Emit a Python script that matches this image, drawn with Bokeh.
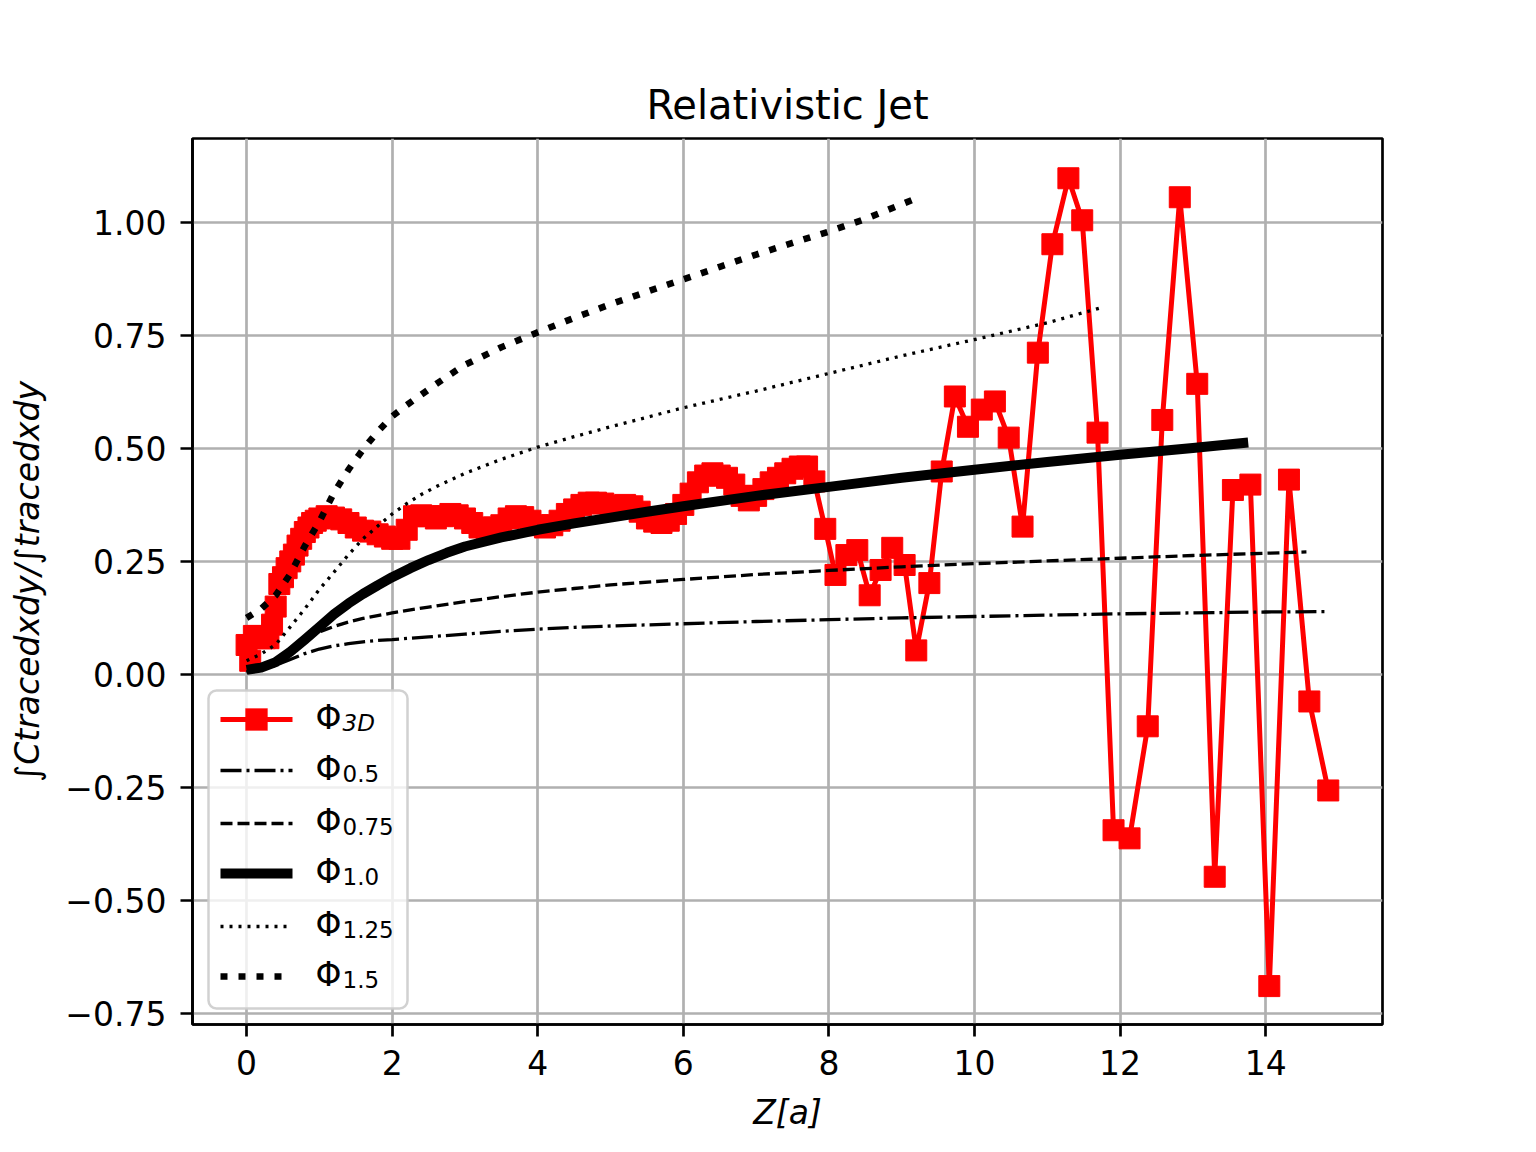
from bokeh.plotting import figure
from bokeh.models import (BoxAnnotation, Label, Arrow, FixedTicker,
                          CustomJSTickFormatter)
from bokeh.embed import file_html
from bokeh.resources import INLINE

# ---------------- data ----------------
z_3d = [0.0, 0.05, 0.1, 0.15, 0.2, 0.25, 0.3, 0.35, 0.4, 0.45, 0.5, 0.55, 0.6, 0.65,
        0.7, 0.75, 0.8, 0.85, 0.9, 0.95, 1.0, 1.1, 1.2, 1.3,
        1.4, 1.5, 1.6, 1.7, 1.8, 1.9, 2.0, 2.1, 2.2, 2.3, 2.4, 2.5, 2.6, 2.7, 2.8,
        2.9, 3.0, 3.1, 3.2, 3.3, 3.4, 3.5, 3.6, 3.7, 3.8, 3.9, 4.0, 4.1, 4.2, 4.3,
        4.4, 4.5, 4.6, 4.7, 4.8, 4.9, 5.0, 5.1, 5.2, 5.3, 5.4, 5.5, 5.6, 5.7, 5.8,
        5.9, 6.0, 6.1, 6.2, 6.3, 6.4, 6.5, 6.6, 6.7, 6.8, 6.9, 7.0, 7.1, 7.2, 7.3,
        7.4, 7.5, 7.6, 7.7, 7.8,
        7.95, 8.09, 8.24, 8.39, 8.56, 8.71, 8.87, 9.04, 9.20, 9.38, 9.55, 9.73,
        9.91, 10.10, 10.28, 10.47, 10.66, 10.87, 11.07, 11.29, 11.48, 11.69,
        11.91, 12.13, 12.38, 12.58, 12.82, 13.06, 13.30, 13.55, 13.79, 14.05,
        14.32, 14.60, 14.86]
phi_3d = [0.065, 0.03, 0.085, 0.085, 0.08, 0.08, 0.08, 0.11, 0.15, 0.20, 0.215,
          0.235, 0.25, 0.265, 0.285, 0.30, 0.315, 0.325, 0.335, 0.34,
          0.345, 0.35, 0.347, 0.343, 0.335, 0.325, 0.318, 0.316, 0.31, 0.305, 0.30,
          0.30, 0.32, 0.35, 0.352, 0.35, 0.345, 0.35, 0.355, 0.352, 0.345, 0.335,
          0.325, 0.32, 0.325, 0.33, 0.345, 0.35, 0.348, 0.34, 0.33, 0.325, 0.33,
          0.34, 0.355, 0.365, 0.375, 0.38, 0.38, 0.378, 0.372, 0.37, 0.375, 0.372,
          0.36, 0.345, 0.338, 0.335, 0.34, 0.355, 0.375, 0.40, 0.425, 0.44, 0.445,
          0.44, 0.435, 0.42, 0.395, 0.385, 0.395, 0.41, 0.425, 0.435, 0.445, 0.455,
          0.46, 0.46, 0.427,
          0.322, 0.220, 0.264, 0.275, 0.175, 0.231, 0.280, 0.242, 0.053, 0.202,
          0.449, 0.615, 0.548, 0.586, 0.604, 0.524, 0.327, 0.712, 0.952, 1.098,
          1.005, 0.535, -0.345, -0.363, -0.115, 0.563, 1.056, 0.643, -0.448,
          0.408, 0.420, -0.690, 0.431, -0.060, -0.257]

z_05 = [0.0, 0.2, 0.4, 0.6, 0.8, 1.0, 1.2, 1.4, 1.6, 1.8, 2.0, 2.5, 3.0, 3.5, 4.0,
        4.5, 5.0, 6.0, 7.0, 8.0, 9.0, 10.0, 11.0, 12.0, 13.0, 14.0, 14.86]
phi_05 = [0.005, 0.01, 0.02, 0.033, 0.046, 0.056, 0.063, 0.068, 0.072, 0.075, 0.077,
          0.083, 0.089, 0.095, 0.1, 0.104, 0.107, 0.112, 0.117, 0.121, 0.125, 0.128,
          0.131, 0.134, 0.136, 0.138, 0.139]

z_075 = [0.0, 0.2, 0.4, 0.6, 0.8, 1.0, 1.2, 1.4, 1.6, 1.8, 2.0, 2.5, 3.0, 3.5, 4.0,
         4.5, 5.0, 6.0, 7.0, 8.0, 9.0, 10.0, 11.0, 12.0, 13.0, 14.0, 14.56]
phi_075 = [0.005, 0.015, 0.033, 0.055, 0.077, 0.094, 0.106, 0.116, 0.124, 0.13,
           0.136, 0.149, 0.161, 0.172, 0.182, 0.19, 0.198, 0.21, 0.221, 0.23, 0.238,
           0.245, 0.251, 0.257, 0.263, 0.268, 0.271]

z_10 = [0.0, 0.2, 0.4, 0.6, 0.8, 1.0, 1.2, 1.4, 1.6, 1.8, 2.0, 2.25, 2.5, 2.75, 3.0,
        3.5, 4.0, 4.5, 5.0, 5.5, 6.0, 7.0, 8.0, 9.0, 10.0, 11.0, 12.0, 13.0, 13.76]
phi_10 = [0.01, 0.015, 0.027, 0.05, 0.077, 0.105, 0.133, 0.157, 0.178, 0.197, 0.215,
          0.235, 0.253, 0.269, 0.283, 0.303, 0.32, 0.334, 0.347, 0.36, 0.372, 0.395,
          0.415, 0.435, 0.453, 0.47, 0.486, 0.501, 0.513]

z_125 = [0.0, 0.2, 0.4, 0.6, 0.8, 1.0, 1.2, 1.4, 1.6, 1.8, 2.0, 2.2, 2.4, 2.6, 2.8,
         3.0, 3.5, 4.0, 4.5, 5.0, 6.0, 7.0, 8.0, 9.0, 10.0, 11.0, 11.75]
phi_125 = [0.03, 0.045, 0.066, 0.105, 0.145, 0.188, 0.226, 0.265, 0.30, 0.328, 0.355,
           0.378, 0.398, 0.415, 0.43, 0.445, 0.476, 0.503, 0.526, 0.548, 0.59, 0.627,
           0.666, 0.705, 0.741, 0.778, 0.812]

z_15 = [0.0, 0.2, 0.4, 0.6, 0.8, 1.0, 1.2, 1.4, 1.6, 1.8, 2.0, 2.2, 2.4, 2.6, 2.8,
        3.0, 3.5, 4.0, 4.5, 5.0, 5.5, 6.0, 6.5, 7.0, 7.5, 8.0, 8.5, 9.27]
phi_15 = [0.125, 0.145, 0.175, 0.222, 0.284, 0.338, 0.402, 0.453, 0.498, 0.537,
          0.571, 0.596, 0.619, 0.642, 0.664, 0.685, 0.724, 0.757, 0.789, 0.819,
          0.847, 0.874, 0.902, 0.929, 0.955, 0.98, 1.008, 1.058]

x_ticks = [0, 2, 4, 6, 8, 10, 12, 14]
y_ticks = [-0.75, -0.5, -0.25, 0.0, 0.25, 0.5, 0.75, 1.0]
title_text = "Relativistic Jet"
x_label = "Z[a]"
y_label = "∫Ctracedxdy/∫tracedxdy"
legend_main = ["Φ", "Φ", "Φ", "Φ", "Φ", "Φ"]
legend_sub = ["3D", "0.5", "0.75", "1.0", "1.25", "1.5"]

# ---------------- figure ----------------
FONT = "DejaVu Sans"
W, H = 1520, 1136
FL, FT, FR, FB = 192, 138, 1382, 1024  # frame edges in picture pixels
p = figure(width=W, height=H, x_range=(-0.743, 15.605), y_range=(-0.775, 1.186),
           output_backend="svg", toolbar_location=None,
           min_border_left=FL, min_border_right=W - FR,
           min_border_top=FT, min_border_bottom=H - FB)
p.background_fill_color = "white"
p.border_fill_color = "white"
p.outline_line_color = "black"
p.outline_line_width = 2.7

p.title.text = title_text
p.title.align = "center"
p.title.text_font = FONT
p.title.text_font_size = "40px"
p.title.text_font_style = "normal"
p.title.text_color = "black"
p.title.standoff = 21

for ax in (p.xaxis[0], p.yaxis[0]):
    ax.axis_line_width = 2.7
    ax.axis_line_color = "black"
    ax.major_tick_out = 12
    ax.major_tick_in = 0
    ax.major_tick_line_width = 2.7
    ax.minor_tick_line_color = None
    ax.major_label_text_font = FONT
    ax.major_label_text_font_size = "33px"
    ax.major_label_text_color = "black"
    ax.axis_label_text_font = FONT
    ax.axis_label_text_font_size = "33px"
    ax.axis_label_text_font_style = "italic"
    ax.axis_label_text_color = "black"

p.xaxis.ticker = FixedTicker(ticks=x_ticks)
p.yaxis.ticker = FixedTicker(ticks=y_ticks)
p.yaxis.formatter = CustomJSTickFormatter(
    code="return (tick < 0 ? '\\u2212' : '') + Math.abs(tick).toFixed(2);")
p.xaxis.major_label_standoff = 13
p.yaxis.major_label_standoff = 14
p.xaxis.axis_label = x_label
p.yaxis.axis_label = y_label
p.xaxis.axis_label_standoff = 15
p.yaxis.axis_label_standoff = 15

p.xgrid.grid_line_color = "#b0b0b0"
p.ygrid.grid_line_color = "#b0b0b0"
p.xgrid.grid_line_width = 2.7
p.ygrid.grid_line_width = 2.7

# ---------------- series ----------------
p.line(z_3d, phi_3d, line_color="red", line_width=5, line_join="round")
p.scatter(z_3d, phi_3d, marker="square", size=21, fill_color="red",
          line_color="red", line_width=1)

p.line(z_05, phi_05, line_color="black", line_width=3.3, line_dash="21 5 3 5")
p.line(z_075, phi_075, line_color="black", line_width=3.3, line_dash="12 5")
p.line(z_10, phi_10, line_color="black", line_width=10, line_join="round")
p.line(z_125, phi_125, line_color="black", line_width=3.3, line_dash="3 6")
p.line(z_15, phi_15, line_color="black", line_width=6.6, line_dash="7 11")

# ---------------- legend (built from annotations, screen units) ----------------


def sx(X):
    return X - FL


def sy(Y):
    return FB - Y


p.add_layout(BoxAnnotation(left=sx(208), right=sx(407), bottom=sy(1008), top=sy(690),
                           left_units="screen", right_units="screen",
                           bottom_units="screen", top_units="screen",
                           fill_color="white", fill_alpha=0.8,
                           line_color="#cccccc", line_alpha=0.9, line_width=2.5,
                           border_radius=8, level="annotation"))

rows = [719, 770, 823, 873, 926, 976]
styles = [dict(line_color="red", line_width=5),
          dict(line_color="black", line_width=3.3, line_dash="21 5 3 5"),
          dict(line_color="black", line_width=3.3, line_dash="12 5"),
          dict(line_color="black", line_width=10),
          dict(line_color="black", line_width=3.3, line_dash="3 6"),
          dict(line_color="black", line_width=6.6, line_dash="7 11")]
for i, (r, st) in enumerate(zip(rows, styles)):
    p.add_layout(Arrow(end=None, x_start=sx(220), y_start=sy(r), x_end=sx(292),
                       y_end=sy(r), start_units="screen", end_units="screen", **st))
    if i == 0:
        p.add_layout(BoxAnnotation(left=sx(245), right=sx(267), bottom=sy(r + 11),
                                   top=sy(r - 11), left_units="screen",
                                   right_units="screen", bottom_units="screen",
                                   top_units="screen", fill_color="red", fill_alpha=1,
                                   line_color="red", level="annotation"))
    p.add_layout(Label(x=sx(315), y=sy(r - 2), x_units="screen", y_units="screen",
                       text=legend_main[i], text_font=FONT, text_font_size="33px",
                       text_baseline="alphabetic", text_align="left",
                       text_color="black"))
    p.add_layout(Label(x=sx(342), y=sy(r + 3), x_units="screen", y_units="screen",
                       text=legend_sub[i], text_font=FONT, text_font_size="23px",
                       text_font_style="italic" if i == 0 else "normal",
                       text_baseline="alphabetic", text_align="left",
                       text_color="black"))

open("out.html", "w").write(file_html(p, INLINE))
